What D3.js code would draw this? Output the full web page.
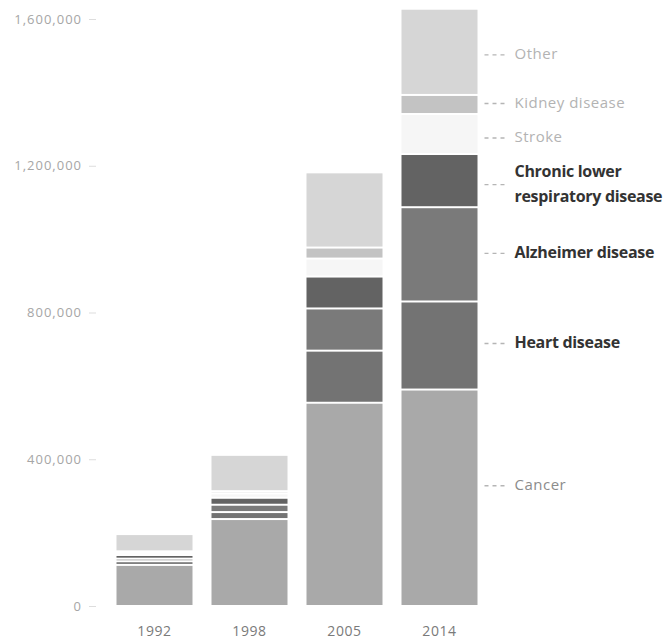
<!DOCTYPE html>
<html>
<head>
<meta charset="utf-8">
<script src="https://cdn.jsdelivr.net/npm/d3@7"></script>
<style>
  html, body { margin: 0; padding: 0; background: #fff; }
  svg { display: block; }
</style>
</head>
<body>
<svg id="chart" width="671" height="644"></svg>
<script>
// Years shown along the bottom
const years = ["1992", "1998", "2005", "2014"];

// Causes, stacked from the bottom up
const causes = ["Cancer", "Heart disease", "Alzheimer disease", "Chronic lower respiratory disease", "Stroke", "Kidney disease", "Other"];

// Values per cause, one entry per year
const cancer      = [112000, 237000, 554000, 590000];
const heart       = [10000, 19000, 142000, 240000];
const alzheimer   = [7000, 20000, 115000, 257000];
const respiratory = [10000, 19000, 87000, 145000];
const stroke      = [6000, 12000, 49000, 109000];
const kidney      = [4000, 6000, 30000, 52000];
const other       = [47000, 99000, 205000, 235000];

const yTicks = [0, 400000, 800000, 1200000, 1600000];

const seriesValues = [cancer, heart, alzheimer, respiratory, stroke, kidney, other];

const fills = {
  "Cancer": "#a9a9a9",
  "Heart disease": "#737373",
  "Alzheimer disease": "#7a7a7a",
  "Chronic lower respiratory disease": "#636363",
  "Stroke": "#f6f6f6",
  "Kidney disease": "#c3c3c3",
  "Other": "#d6d6d6"
};
const labelStyle = {
  "Cancer": {color: "#8c8c8c", weight: 400},
  "Heart disease": {color: "#333333", weight: 700},
  "Alzheimer disease": {color: "#333333", weight: 700},
  "Chronic lower respiratory disease": {color: "#333333", weight: 700, lines: ["Chronic lower", "respiratory disease"]},
  "Stroke": {color: "#b3b3b3", weight: 400},
  "Kidney disease": {color: "#b3b3b3", weight: 400},
  "Other": {color: "#b3b3b3", weight: 400}
};

const table = years.map((yr, i) => {
  const row = {year: yr};
  causes.forEach((c, k) => row[c] = seriesValues[k][i]);
  return row;
});

const svg = d3.select("#chart");
const font = "'Open Sans', 'Noto Sans', sans-serif";

const x = d3.scaleBand().domain(years).range([107, 487]).paddingInner(0.2).paddingOuter(0.1);
const y = d3.scaleLinear().domain([0, 1600000]).range([606, 19]);

const stacked = d3.stack().keys(causes)(table);

// y axis
const yAxis = d3.axisLeft(y).tickValues(yTicks).tickSize(7).tickPadding(7)
  .tickFormat(d3.format(","));
const gy = svg.append("g").attr("transform", "translate(96,0)").call(yAxis);
gy.select(".domain").remove();
gy.selectAll(".tick line").attr("stroke", "#dddddd");
gy.selectAll(".tick text").attr("fill", "#a6a6a6")
  .style("font-family", font).style("font-size", "13px").style("letter-spacing", "1px");

// x axis labels
const xAxis = d3.axisBottom(x).tickSize(0).tickPadding(14);
const gx = svg.append("g").attr("transform", "translate(0,612)").call(xAxis);
gx.select(".domain").remove();
gx.selectAll(".tick text").attr("fill", "#7a7a7a")
  .style("font-family", font).style("font-size", "14px").style("letter-spacing", "0.6px");

// stacked segments, separated by a thin white gap
svg.append("g").selectAll("g").data(stacked).join("g")
  .attr("fill", d => fills[d.key])
  .selectAll("rect").data(d => d).join("rect")
  .attr("x", d => x(d.data.year))
  .attr("width", x.bandwidth())
  .attr("y", d => y(d[1]) + 1)
  .attr("height", d => Math.max(0, y(d[0]) - y(d[1]) - 2));

// labels beside the last bar
const last = years[years.length - 1];
const lx = x(last) + x.bandwidth();
const nudge = {"Cancer": -13, "Heart disease": -3, "Alzheimer disease": -2, "Stroke": 3, "Kidney disease": -2, "Other": 2,
               "Chronic lower respiratory disease": 3};
const lab = svg.append("g");
stacked.forEach(s => {
  const seg = s[s.length - 1];
  const cy = (y(seg[0]) + y(seg[1])) / 2 + (nudge[s.key] || 0);
  const st = labelStyle[s.key];
  const bold = st.weight === 700;
  lab.append("line")
    .attr("x1", lx + 7).attr("x2", lx + 31)
    .attr("y1", cy + 1).attr("y2", cy + 1)
    .attr("stroke", "#b5b5b5").attr("stroke-width", 1.3)
    .attr("stroke-dasharray", "4,4");
  const lines = st.lines || [s.key];
  const t = lab.append("text")
    .attr("x", lx + 37)
    .attr("y", cy - (lines.length - 1) * 12.5)
    .attr("fill", st.color)
    .style("font-family", font)
    .style("font-size", bold ? "16px" : "15px")
    .style("font-weight", st.weight)
    .style("letter-spacing", bold ? "-0.3px" : "0.5px");
  lines.forEach((ln, j) => {
    t.append("tspan").attr("x", lx + 37).attr("dy", j === 0 ? "0.35em" : "25px").text(ln);
  });
});
</script>
</body>
</html>
